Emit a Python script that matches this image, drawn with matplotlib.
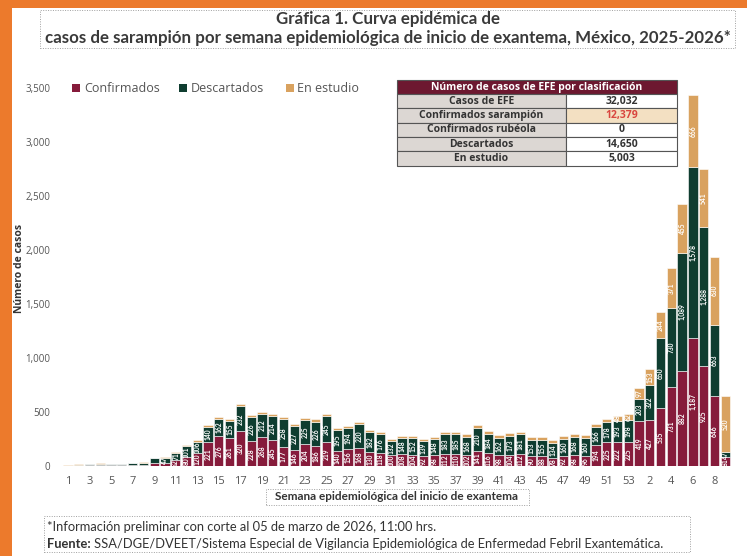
import matplotlib
matplotlib.use("Agg")
from matplotlib import pyplot as plt
from matplotlib.patches import Rectangle
import numpy as np

# semanas epidemiologicas: 2025 (1-53) y 2026 (1-9)
semanas = [str(s) for s in range(1, 54)] + [str(s) for s in range(1, 10)]

confirmados = [1, 3, 5, 6, 5, 6, 8, 10, 28, 30, 52, 80, 120, 221, 276, 261, 320, 228,
               268, 245, 177, 146, 204, 186, 219, 140, 156, 168, 130, 118, 100, 108,
               104, 92, 98, 112, 110, 102, 141, 116, 98, 104, 112, 90, 88, 78, 92, 98,
               96, 194, 225, 222, 225,
               419, 427, 535, 731, 882, 1187, 925, 646, 81]
descartados = [3, 10, 12, 15, 14, 13, 18, 20, 42, 47, 71, 101, 106, 140, 162, 155, 232,
               226, 212, 214, 258, 227, 225, 226, 245, 195, 194, 220, 182, 176, 132,
               148, 152, 139, 148, 183, 185, 168, 210, 184, 162, 173, 181, 153, 155,
               134, 160, 168, 160, 166, 178, 193, 198,
               203, 322, 650, 730, 1089, 1578, 1288, 663, 47]
en_estudio = [1, 2, 3, 4, 3, 3, 4, 5, 7, 8, 10, 10, 12, 15, 16, 16, 19, 18, 20, 19, 19,
              19, 19, 20, 21, 20, 20, 22, 21, 21, 21, 22, 22, 22, 22, 23, 23, 23, 25,
              24, 24, 25, 25, 25, 25, 26, 26, 27, 28, 32, 35, 48, 62,
              97, 153, 244, 371, 455, 666, 541, 630, 520]

tabla_etiquetas = ["Casos de EFE", "Confirmados sarampión", "Confirmados rubéola",
                   "Descartados", "En estudio"]
tabla_valores = ["32,032", "12,379", "0", "14,650", "5,003"]

C_CONF = "#861b3b"
C_DESC = "#0f3d30"
C_EST = "#d9a25f"
NARROW = ["Lato", "DejaVu Sans"]
SANS = ["Open Sans", "DejaVu Sans"]
W, H = 747, 556


def fx(px):
    return px / W


def fy(py):
    return 1 - py / H


fig = plt.figure(figsize=(W / 100, H / 100), dpi=100)
fig.patch.set_facecolor("white")

# marco naranja
fig.patches.append(Rectangle((0, 0), fx(12), 1, transform=fig.transFigure,
                             facecolor="#ec7a2c", edgecolor="none", zorder=0))
fig.patches.append(Rectangle((0, fy(8)), 1, 8 / H, transform=fig.transFigure,
                             facecolor="#ec7a2c", edgecolor="none", zorder=0))


def caja(x0, y0, x1, y1):
    fig.patches.append(Rectangle((fx(x0), fy(y1)), fx(x1 - x0), (y1 - y0) / H,
                                 transform=fig.transFigure, facecolor="none",
                                 edgecolor="#a0a0a0", lw=0.7, ls=(0, (1, 1.5))))


# titulo
caja(40, 10, 735, 48)
fig.text(fx(388), fy(19), "Gráfica 1. Curva epidémica de", ha="center", va="center",
         family=NARROW, weight="bold", fontsize=12.2, color="#3a3a3a")
fig.text(fx(388), fy(38), "casos de sarampión por semana epidemiológica de inicio de "
         "exantema, México, 2025-2026*", ha="center", va="center",
         family=NARROW, weight="bold", fontsize=12.2, color="#3a3a3a")

ax = fig.add_axes([fx(57.2), fy(466), fx(736 - 57.2), (466 - 88) / H])
x = np.arange(1, len(semanas) + 1)
conf = np.array(confirmados)
desc = np.array(descartados)
est = np.array(en_estudio)

ax.bar(x, conf, width=0.86, color=C_CONF, edgecolor="white", lw=0.4)
ax.bar(x, desc, width=0.86, bottom=conf, color=C_DESC, edgecolor="white", lw=0.4)
ax.bar(x, est, width=0.86, bottom=conf + desc, color=C_EST, edgecolor="white", lw=0.4)

# valores dentro de cada segmento
for xi, c, d, e in zip(x, conf, desc, est):
    for val, base in ((c, 0), (d, c), (e, c + d)):
        if val >= 45:
            ax.text(xi, base + val / 2, f"{val:,}", rotation=90, ha="center",
                    va="center", color="white", fontsize=4.8, weight="bold",
                    family=NARROW)

ax.set_xlim(0, len(semanas) + 1)
ax.set_ylim(0, 3500)
ax.set_yticks(np.arange(0, 3501, 500))
ax.set_yticklabels([f"{v:,}" for v in range(0, 3501, 500)])
pos = [i for i in range(len(semanas) - 1) if i % 2 == 0]
ax.set_xticks(x[pos])
ax.set_xticklabels([semanas[i] for i in pos])
ax.tick_params(axis="y", length=0, pad=5, labelsize=7, labelcolor="#555555")
ax.tick_params(axis="x", length=0, pad=7, labelsize=8, labelcolor="#555555")
for t in ax.get_xticklabels() + ax.get_yticklabels():
    t.set_family(SANS)
for s in ax.spines.values():
    s.set_visible(False)

fig.text(fx(20), fy(268), "Número de casos", rotation=90, ha="center", va="center",
         family=SANS, weight="bold", fontsize=7.5, color="#333333")
caja(266, 489, 529, 505)
fig.text(fx(397), fy(497), "Semana epidemiológica del inicio de exantema", ha="center",
         va="center", family=NARROW, weight="bold", fontsize=8.5, color="#333333")

# leyenda
for sx, tx, txt, col in ((72, 84, "Confirmados", C_CONF), (179, 191, "Descartados", C_DESC),
                         (286, 297, "En estudio", C_EST)):
    fig.patches.append(Rectangle((fx(sx), fy(92)), fx(8), 8 / H, transform=fig.transFigure,
                                 facecolor=col, edgecolor="none"))
    fig.text(fx(tx), fy(88), txt, ha="left", va="center", fontsize=9, color="#555555",
             family=SANS)

# tabla resumen
x0, x1, x2 = 397, 566, 677
fig.patches.append(Rectangle((fx(x0), fy(94)), fx(x2 - x0), 14 / H, transform=fig.transFigure,
                             facecolor="#6d1830", edgecolor="#555555", lw=0.8))
fig.text(fx((x0 + x2) / 2), fy(87.5), "Número de casos de EFE por clasificación",
         ha="center", va="center", color="white", weight="bold", fontsize=7.5,
         family=SANS)
for i, (lab, val) in enumerate(zip(tabla_etiquetas, tabla_valores)):
    top = 94 + i * 14.3
    bot = top + 14.3
    fig.patches.append(Rectangle((fx(x0), fy(bot)), fx(x1 - x0), 14.3 / H,
                                 transform=fig.transFigure, facecolor="#dcd7d3",
                                 edgecolor="#555555", lw=0.8))
    destacado = i == 1
    fig.patches.append(Rectangle((fx(x1), fy(bot)), fx(x2 - x1), 14.3 / H,
                                 transform=fig.transFigure,
                                 facecolor="#f3e0c2" if destacado else "white",
                                 edgecolor="#555555", lw=0.8))
    fig.text(fx((x0 + x1) / 2), fy((top + bot) / 2), lab, ha="center", va="center",
             weight="bold", fontsize=7.5, color="#333333", family=SANS)
    fig.text(fx((x1 + x2) / 2), fy((top + bot) / 2), val, ha="center", va="center",
             weight="bold", fontsize=7.5, color="#d9463f" if destacado else "#333333",
             family=SANS)

# nota y fuente
caja(44, 516, 690, 552)
fig.text(fx(47), fy(527), "*Información preliminar con corte al 05 de marzo de 2026, 11:00 hrs.",
         ha="left", va="center", family=NARROW, fontsize=9.3, color="#333333")
t1 = fig.text(fx(47), fy(544), "Fuente:", ha="left", va="center", family=NARROW,
              fontsize=9.3, weight="bold", color="#333333")
fig.canvas.draw()
bb = t1.get_window_extent()
fig.text(bb.x1 / W + fx(3), fy(544), "SSA/DGE/DVEET/Sistema Especial de Vigilancia "
         "Epidemiológica de Enfermedad Febril Exantemática.", ha="left", va="center",
         family=NARROW, fontsize=9.3, color="#333333")

fig.savefig("out.png", dpi=100)
